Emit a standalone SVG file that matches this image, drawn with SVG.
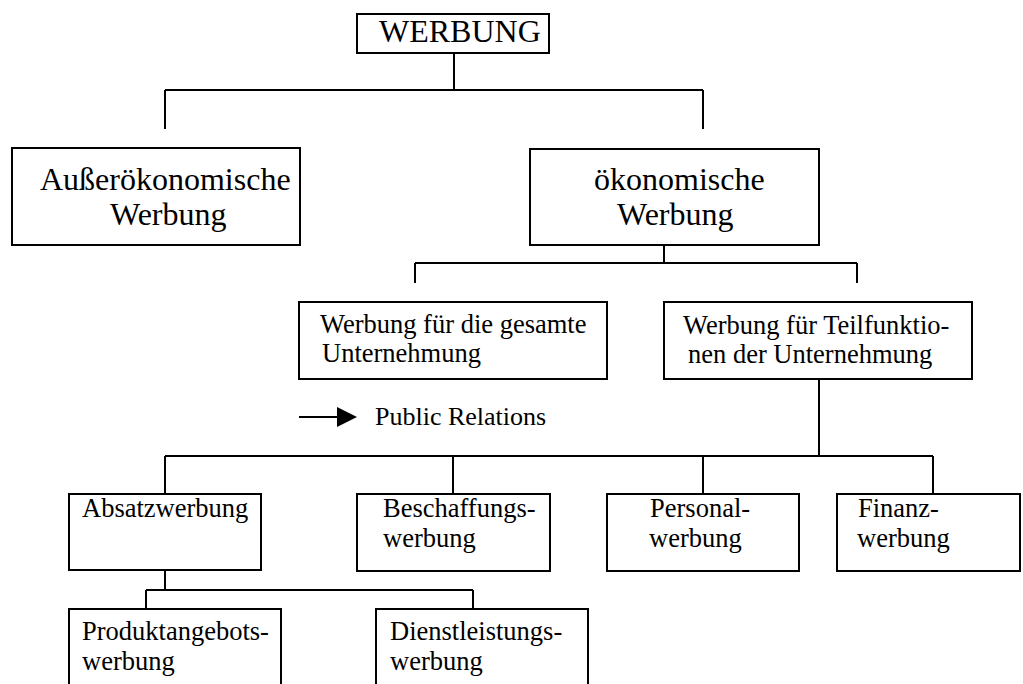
<svg xmlns="http://www.w3.org/2000/svg" width="1023" height="684" viewBox="0 0 1023 684">
<style>
.box{fill:#fff;stroke:#000;stroke-width:2}
.ln{fill:none;stroke:#000;stroke-width:2}
text{font-family:"Liberation Serif","Times New Roman",serif;fill:#000}
.big{font-size:32px}
.sm{font-size:26.5px}
</style>
<rect width="1023" height="684" fill="#fff"/>
<g id="connectors">
<path class="ln" d="M454,53V90M165,90H703M165,90V129M703,90V129"/>
<path class="ln" d="M664,245V263M415,263H857M415,263V283M857,263V283"/>
<path class="ln" d="M819,379V456M165,456H933M165,456V494M453,456V494M703,456V494M933,456V494"/>
<path class="ln" d="M165,570V590M146,590H473M146,590V609M473,590V609"/>
</g>
<g id="werbung">
<rect class="box" x="357" y="14" width="192" height="39"/>
<text class="big" x="379" y="42">WERBUNG</text>
</g>
<g id="ausseroekonomische">
<rect class="box" x="12" y="148" width="288" height="97"/>
<text class="big" x="40" y="190">Außerökonomische</text>
<text class="big" x="110" y="225">Werbung</text>
</g>
<g id="oekonomische">
<rect class="box" x="530" y="149" width="289" height="96"/>
<text class="big" x="594" y="190">ökonomische</text>
<text class="big" x="617" y="225">Werbung</text>
</g>
<g id="gesamte">
<rect class="box" x="299" y="302" width="308" height="77"/>
<text class="sm" x="320" y="333">Werbung für die gesamte</text>
<text class="sm" x="322" y="362">Unternehmung</text>
</g>
<g id="public-relations">
<line class="ln" x1="299" y1="417" x2="340" y2="417"/>
<polygon points="337,407 357,417 337,427" fill="#000"/>
<text class="sm" x="375" y="425" style="font-size:26px">Public Relations</text>
</g>
<g id="teilfunktionen">
<rect class="box" x="664" y="302" width="308" height="77"/>
<text class="sm" x="683" y="334">Werbung für Teilfunktio-</text>
<text class="sm" x="688" y="363">nen der Unternehmung</text>
</g>
<g id="absatzwerbung">
<rect class="box" x="69" y="494" width="192" height="76"/>
<text class="sm" x="82" y="517">Absatzwerbung</text>
</g>
<g id="beschaffungswerbung">
<rect class="box" x="357" y="494" width="193" height="77"/>
<text class="sm" x="383" y="517">Beschaffungs-</text>
<text class="sm" x="383" y="547">werbung</text>
</g>
<g id="personalwerbung">
<rect class="box" x="607" y="494" width="192" height="77"/>
<text class="sm" x="650" y="517">Personal-</text>
<text class="sm" x="649" y="547">werbung</text>
</g>
<g id="finanzwerbung">
<rect class="box" x="837" y="494" width="183" height="77"/>
<text class="sm" x="858" y="517">Finanz-</text>
<text class="sm" x="857" y="547">werbung</text>
</g>
<g id="produktangebotswerbung">
<rect class="box" x="69" y="609" width="212" height="100"/>
<text class="sm" x="82" y="640">Produktangebots-</text>
<text class="sm" x="82" y="670">werbung</text>
</g>
<g id="dienstleistungswerbung">
<rect class="box" x="376" y="609" width="212" height="100"/>
<text class="sm" x="390" y="640">Dienstleistungs-</text>
<text class="sm" x="390" y="670">werbung</text>
</g>
</svg>
